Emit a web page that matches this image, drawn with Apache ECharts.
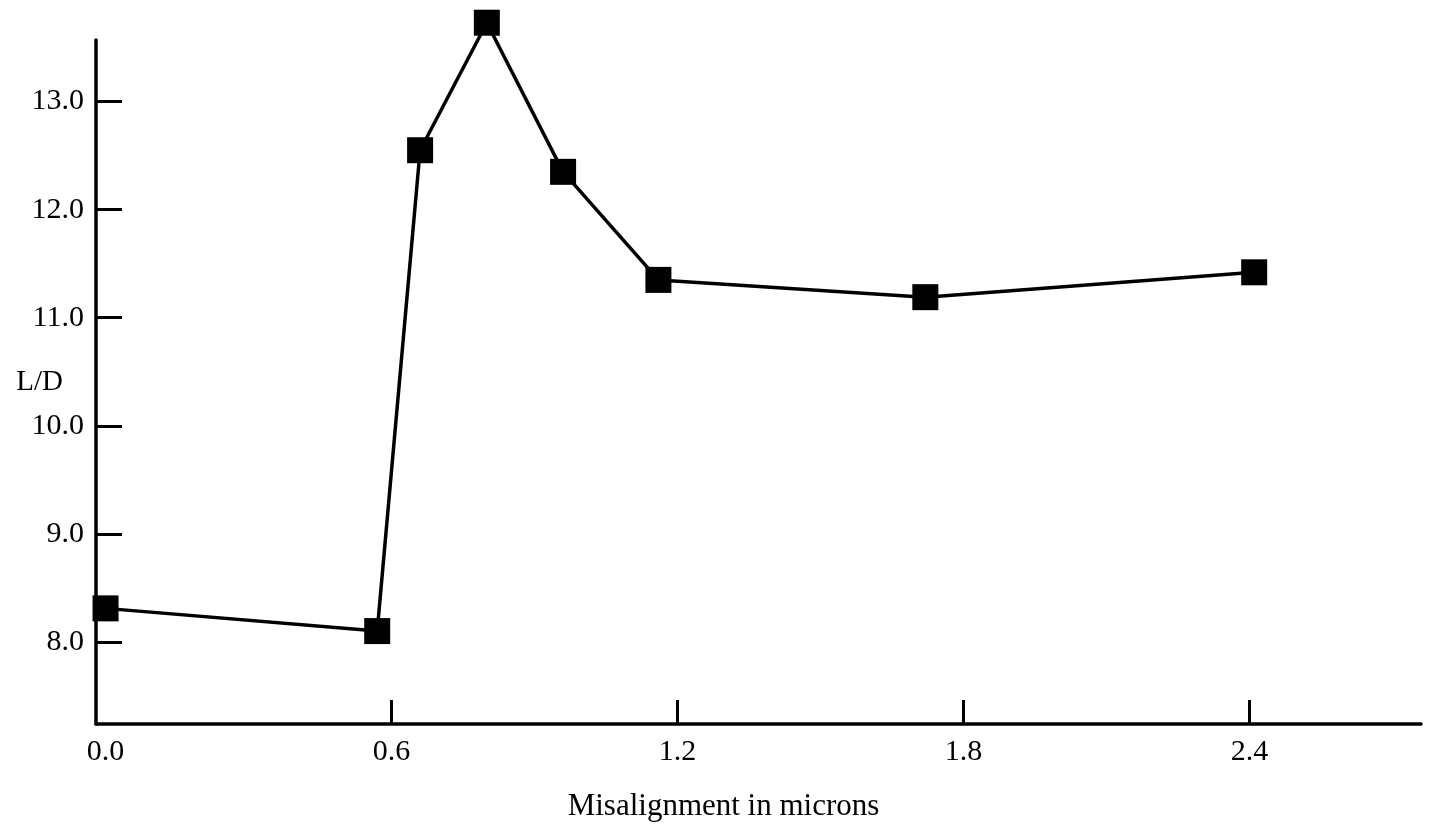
<!DOCTYPE html>
<html>
<head>
<meta charset="utf-8">
<script src="https://cdn.jsdelivr.net/npm/echarts@6/dist/echarts.min.js"></script>
<style>
html,body{margin:0;padding:0;background:#fff;}
#chart{width:1432px;height:834px;}
</style>
</head>
<body>
<div id="chart"></div>
<script>
// Data
var misalignment = [0.0, 0.57, 0.66, 0.80, 0.96, 1.16, 1.72, 2.41];
var ldValues     = [8.31, 8.10, 12.55, 13.73, 12.35, 11.35, 11.19, 11.42];
var xTickLabels  = [0.0, 0.6, 1.2, 1.8, 2.4];
var xTickMarks   = [0.6, 1.2, 1.8, 2.4];
var yTickLabels  = [8.0, 9.0, 10.0, 11.0, 12.0, 13.0];

var points = misalignment.map(function (x, i) { return [x, ldValues[i]]; });
var FONT = 'Liberation Serif';

var chart = echarts.init(document.getElementById('chart'), null, {renderer: 'canvas'});
chart.setOption({
  backgroundColor: '#ffffff',
  animation: false,
  grid: {left: 96, right: 11, top: 40, bottom: 110, containLabel: false, outerBoundsMode: 'none'},
  xAxis: {
    type: 'value',
    min: -0.02,
    max: 2.76,
    name: 'Misalignment in microns',
    nameLocation: 'middle',
    nameGap: 67,
    nameMoveOverlap: false,
    nameTextStyle: {fontFamily: FONT, fontSize: 31, color: '#000', padding: [0, 70, 0, 0]},
    axisLine: {show: true, onZero: false, lineStyle: {color: '#000', width: 3.5}},
    axisTick: {show: true, inside: true, length: 24, customValues: xTickMarks, lineStyle: {color: '#000', width: 3}},
    axisLabel: {
      show: true, customValues: xTickLabels, margin: 13,
      fontFamily: FONT, fontSize: 30, color: '#000',
      formatter: function (v) { return Number(v).toFixed(1); }
    },
    splitLine: {show: false}
  },
  yAxis: {
    type: 'value',
    min: 7.24,
    max: 13.57,
    name: 'L/D',
    nameLocation: 'middle',
    nameRotate: 0,
    nameGap: 33,
    nameMoveOverlap: false,
    nameTextStyle: {fontFamily: FONT, fontSize: 29, color: '#000'},
    axisLine: {show: true, onZero: false, lineStyle: {color: '#000', width: 3.5}},
    axisTick: {show: true, inside: true, length: 26, customValues: yTickLabels, lineStyle: {color: '#000', width: 3}},
    axisLabel: {
      show: true, customValues: yTickLabels, margin: 12,
      fontFamily: FONT, fontSize: 30, color: '#000',
      formatter: function (v) { return Number(v).toFixed(1); }
    },
    splitLine: {show: false}
  },
  series: [{
    type: 'line',
    data: points,
    clip: false,
    symbol: 'rect',
    symbolSize: 26,
    itemStyle: {color: '#000'},
    lineStyle: {color: '#000', width: 3.5}
  }]
});
</script>
</body>
</html>
